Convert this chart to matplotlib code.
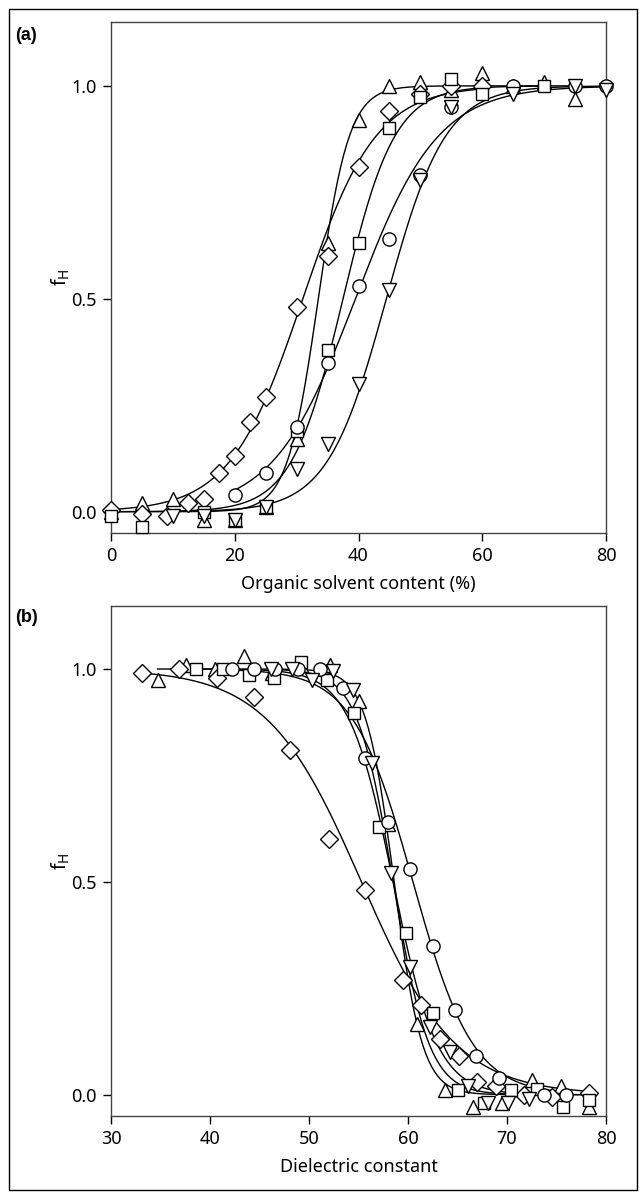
import numpy as np
import matplotlib.pyplot as plt
from matplotlib.patches import Rectangle

plt.rcParams['font.family'] = ['Noto Sans', 'DejaVu Sans']
plt.rcParams['mathtext.default'] = 'regular'

# (a) fraction helix vs organic solvent content (%)
a_tri_x = [0, 5, 10, 15, 20, 25, 30, 35, 40, 45, 50, 55, 60, 65, 70, 75]
a_tri_f = [0.0, 0.02, 0.03, -0.02, -0.02, 0.01, 0.17, 0.63, 0.92, 1.0, 1.01, 0.99, 1.03, 1.0, 1.01, 0.97]
a_dia_x = [0, 5, 9, 12.5, 15, 17.5, 20, 22.5, 25, 30, 35, 40, 45, 50, 55, 60]
a_dia_f = [0.005, -0.005, -0.01, 0.02, 0.03, 0.09, 0.13, 0.21, 0.27, 0.48, 0.60, 0.81, 0.94, 0.98, 1.0, 1.0]
a_sq_x = [0, 5, 15, 20, 25, 30, 35, 40, 45, 50, 55, 60, 70]
a_sq_f = [-0.01, -0.035, 0.0, -0.02, 0.01, 0.19, 0.38, 0.63, 0.90, 0.975, 1.015, 0.98, 1.0]
a_cir_x = [20, 25, 30, 35, 40, 45, 50, 55, 65, 75, 80]
a_cir_f = [0.04, 0.09, 0.20, 0.35, 0.53, 0.64, 0.79, 0.95, 1.0, 1.0, 1.0]
a_inv_x = [10, 15, 20, 25, 30, 35, 40, 45, 50, 55, 65, 75, 80]
a_inv_f = [-0.01, -0.01, -0.02, 0.01, 0.10, 0.16, 0.30, 0.52, 0.78, 0.95, 0.98, 1.0, 0.99]

# (b) same data vs dielectric constant
b_tri_x = [78.3, 75.5, 72.5, 69.5, 66.6, 63.7, 60.9, 58.0, 55.05, 52.1, 49.2, 46.3, 43.4, 40.5, 37.6, 34.7]
b_tri_f = [-0.03, 0.02, 0.035, -0.02, -0.03, 0.01, 0.165, 0.635, 0.925, 1.01, 1.01, 0.99, 1.03, 1.0, 1.01, 0.975]
b_dia_x = [78.3, 74.5, 71.7, 68.9, 67.0, 65.15, 63.2, 61.3, 59.5, 55.7, 52.0, 48.1, 44.4, 40.7, 36.9, 33.1]
b_dia_f = [0.005, -0.005, 0.0, 0.02, 0.03, 0.09, 0.13, 0.21, 0.27, 0.48, 0.60, 0.81, 0.935, 0.98, 1.0, 0.99]
b_sq_x = [78.3, 75.7, 73.0, 70.4, 67.7, 65.1, 62.5, 59.8, 57.1, 54.5, 51.8, 49.2, 46.5, 43.9, 41.3, 38.6]
b_sq_f = [-0.012, -0.03, 0.013, 0.01, -0.02, 0.012, 0.193, 0.38, 0.63, 0.897, 0.974, 1.017, 0.978, 0.986, 1.0, 1.0]
b_cir_x = [76.0, 73.7, 69.2, 66.9, 64.7, 62.5, 60.2, 58.0, 55.7, 53.4, 51.1, 48.9, 46.6, 44.4, 42.2]
b_cir_f = [0.0, 0.0, 0.04, 0.09, 0.20, 0.35, 0.53, 0.64, 0.79, 0.955, 1.0, 1.0, 1.0, 1.0, 1.0]
b_inv_x = [72.2, 70.1, 68.1, 66.1, 64.2, 62.2, 60.2, 58.3, 56.4, 54.4, 52.4, 50.3, 48.3, 46.2]
b_inv_f = [-0.01, -0.02, -0.02, 0.02, 0.10, 0.16, 0.30, 0.52, 0.78, 0.95, 0.995, 0.975, 1.0, 1.0]

# sigmoid fit parameters (midpoint, steepness)
a_mid = [33.5, 31.0, 37.5, 39.5, 44.5]
a_slope = [0.40, 0.17, 0.24, 0.15, 0.21]
b_mid = [58.6, 55.3, 58.5, 60.5, 58.5]
b_slope = [0.70, 0.21, 0.45, 0.33, 0.55]

markers = ['^', 'D', 's', 'o', 'v']
msizes = [10, 9, 9, 9.5, 10]

a_series = [(a_tri_x, a_tri_f), (a_dia_x, a_dia_f), (a_sq_x, a_sq_f),
            (a_cir_x, a_cir_f), (a_inv_x, a_inv_f)]
b_series = [(b_tri_x, b_tri_f), (b_dia_x, b_dia_f), (b_sq_x, b_sq_f),
            (b_cir_x, b_cir_f), (b_inv_x, b_inv_f)]

fig = plt.figure(figsize=(6.39, 11.92), dpi=100)
W, H = 639, 1192
ax_a = fig.add_axes([111 / W, 1 - 533 / H, 495 / W, 511 / H])
ax_b = fig.add_axes([111 / W, 1 - 1116 / H, 495 / W, 510 / H])


def draw(ax, series, mids, slopes, sign):
    for (x, f), x0, k in zip(series, mids, slopes):
        xx = np.linspace(min(x), max(x), 300)
        ax.plot(xx, 1 / (1 + np.exp(-sign * k * (xx - x0))), color='black', lw=1.0, zorder=2)
    for (x, f), m, ms in zip(series, markers, msizes):
        ax.plot(x, f, linestyle='none', marker=m, ms=ms, mfc='white', mec='black',
                mew=1.0, zorder=3, clip_on=False)


draw(ax_a, a_series, a_mid, a_slope, 1)
draw(ax_b, b_series, b_mid, b_slope, -1)

ax_a.set_xlim(0, 80)
ax_a.set_ylim(-0.05, 1.15)
ax_a.set_xticks([0, 20, 40, 60, 80])
ax_a.set_xlabel('Organic solvent content (%)', fontsize=13, labelpad=7)

ax_b.set_xlim(30, 80)
ax_b.set_ylim(-0.05, 1.148)
ax_b.set_xticks([30, 40, 50, 60, 70, 80])
ax_b.set_xlabel('Dielectric constant', fontsize=13, labelpad=7)

for ax in (ax_a, ax_b):
    ax.set_yticks([0.0, 0.5, 1.0])
    ax.set_yticklabels(['0.0', '0.5', '1.0'])
    ax.set_ylabel('f$_H$', fontsize=14, labelpad=0)
    ax.tick_params(direction='out', length=6, width=1, labelsize=13, pad=4)
    for s in ax.spines.values():
        s.set_color('#444444')
        s.set_linewidth(1.0)

fig.text(15 / W, 1 - 36 / H, '(a)', fontsize=13, fontweight='bold', va='center',
         family=['Liberation Sans', 'DejaVu Sans'])
fig.text(15 / W, 1 - 617 / H, '(b)', fontsize=13, fontweight='bold', va='center',
         family=['Liberation Sans', 'DejaVu Sans'])

fig.patches.append(Rectangle((9 / W, 2 / H), 628 / W, 1181 / H, transform=fig.transFigure,
                             fill=False, edgecolor='black', lw=1.0))

fig.savefig('out.png', dpi=100)
